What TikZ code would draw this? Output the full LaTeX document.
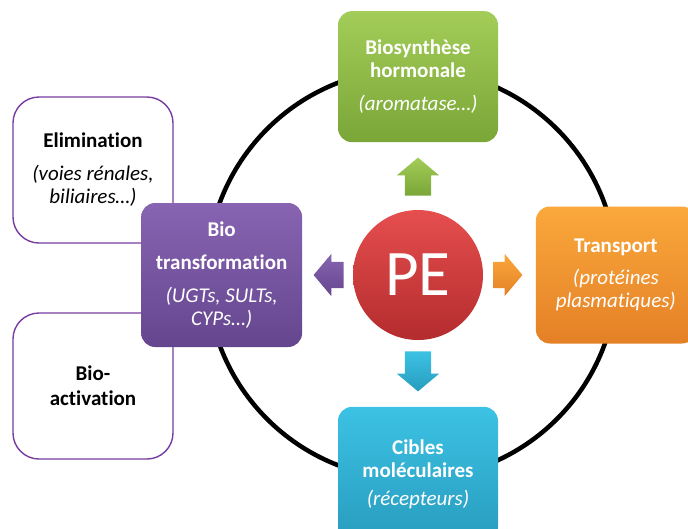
\documentclass[tikz,border=0pt]{standalone}
\usepackage{fontspec}
\setmainfont[Ligatures=NoCommon]{Carlito}
\usetikzlibrary{shapes.arrows,positioning}

\definecolor{synthtop}{RGB}{163,205,88}
\definecolor{synthbot}{RGB}{122,166,56}
\definecolor{transtop}{RGB}{250,168,60}
\definecolor{transbot}{RGB}{228,128,38}
\definecolor{cibtop}{RGB}{60,194,228}
\definecolor{cibbot}{RGB}{40,156,190}
\definecolor{biotop}{RGB}{136,100,178}
\definecolor{biobot}{RGB}{100,70,142}
\definecolor{petop}{RGB}{230,78,78}
\definecolor{pebot}{RGB}{180,44,46}
\definecolor{liseret}{RGB}{118,60,160}

\tikzset{
  box/.style={rounded corners=14pt, minimum width=160pt, minimum height=134pt, align=center, text=white, inner sep=0pt, font=\fontsize{21}{23}\selectfont},
  outbox/.style={box, rounded corners=26pt, draw=liseret, line width=1.4pt, text=black, minimum height=146pt},
  parrow/.style={single arrow, minimum height=38pt, single arrow head extend=8pt, single arrow tip angle=100},
  harrow/.style={parrow, inner xsep=0pt, inner ysep=13pt},
  varrow/.style={parrow, inner xsep=13pt, inner ysep=0pt},
  ring/.style={line width=4.5pt}
}

\begin{document}
\begin{tikzpicture}[x=1pt,y=-1pt]
\useasboundingbox (0,0) rectangle (688,528);
\clip (0,0) rectangle (688,528);
% anneau
\draw[ring] (412,274) circle[radius=205];
% boites de gauche
\node[outbox] (elim) at (93,170) {\textbf{Elimination}\\[10pt]\textit{(voies rénales,}\\\textit{biliaires…)}};
\node[outbox] (bioact) at (93,386) {\textbf{Bio-}\\[2pt]\textbf{activation}};
% centre
\node[circle, minimum size=130pt, inner sep=0pt, top color=petop, bottom color=pebot, text=white, font=\fontsize{65}{65}\selectfont] (PE) at (418,275) {PE};
% fleches
\node[varrow, shape border rotate=90, anchor=tail, top color=synthtop, bottom color=synthbot] (uarr) at ([yshift=14pt]PE.north) {};
\node[varrow, shape border rotate=270, anchor=tail, minimum height=40pt, top color=cibtop, bottom color=cibbot] (darr) at ([yshift=-11pt]PE.south) {};
\node[harrow, shape border rotate=0, anchor=tail, minimum height=29pt, top color=transtop, bottom color=transbot] (rarr) at ([xshift=10pt]PE.east) {};
\node[harrow, shape border rotate=180, anchor=tail, minimum height=30pt, top color=biotop, bottom color=biobot] (larr) at ([xshift=-9pt]PE.west) {};
% boites
\node[box, above=15pt of uarr.tip, minimum height=131pt, top color=synthtop, bottom color=synthbot] (synth) {\textbf{Biosynthèse}\\\textbf{hormonale}\\[10pt]\textit{(aromatase…)}};
\node[box, below=15pt of darr.tip, top color=cibtop, bottom color=cibbot] (cibles) {\textbf{Cibles}\\\textbf{moléculaires}\\[5pt]\textit{(récepteurs)}};
\node[box, right=13pt of rarr.tip, minimum height=137pt, top color=transtop, bottom color=transbot] (transp) {\textbf{Transport}\\[9pt]\textit{(protéines}\\\textit{plasmatiques)}};
\node[box, left=11pt of larr.tip, minimum width=161pt, minimum height=144pt, top color=biotop, bottom color=biobot] (biotr) {\textbf{Bio}\\[10pt]\textbf{transformation}\\[10pt]\textit{(UGTs, SULTs,}\\\textit{CYPs…)}};
\end{tikzpicture}
\end{document}
